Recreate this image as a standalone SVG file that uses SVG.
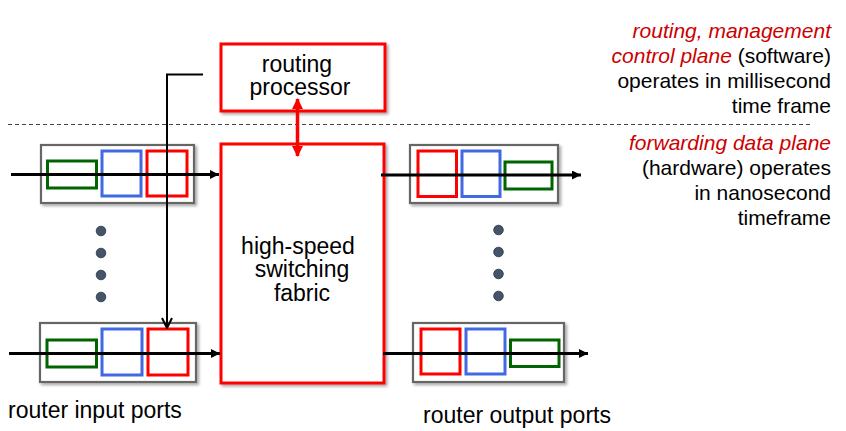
<svg xmlns="http://www.w3.org/2000/svg" width="846" height="431" viewBox="0 0 846 431">
<defs>
<filter id="sh" x="-10%" y="-10%" width="130%" height="130%">
<feDropShadow dx="2" dy="2" stdDeviation="1.5" flood-color="#000" flood-opacity="0.35"/>
</filter>
<marker id="tri" viewBox="0 0 10 10" refX="10" refY="5" markerWidth="9" markerHeight="9" markerUnits="userSpaceOnUse" orient="auto">
<path d="M0,0 L10,5 L0,10 z" fill="#000"/>
</marker>
<marker id="vee" viewBox="0 0 12 12" refX="11" refY="6" markerWidth="12" markerHeight="12" markerUnits="userSpaceOnUse" orient="auto">
<path d="M1,1 L11,6 L1,11" fill="none" stroke="#000" stroke-width="2"/>
</marker>
<marker id="red" viewBox="0 0 12 12" refX="11" refY="6" markerWidth="13" markerHeight="11" markerUnits="userSpaceOnUse" orient="auto-start-reverse">
<path d="M0,0 L12,6 L0,12 z" fill="#ff0000"/>
</marker>
</defs>
<style>
.port{fill:#fff;stroke:#666;stroke-width:2.2;filter:url(#sh)}
.rbox{fill:#fff;stroke:#ff0000;stroke-width:3;filter:url(#sh)}
.g{fill:none;stroke:#006400;stroke-width:3}
.b{fill:none;stroke:#4169e1;stroke-width:3}
.r{fill:none;stroke:#ff0000;stroke-width:3}
.dot{fill:#44546a;stroke:#2a3340;stroke-width:0.8}
.flow{stroke:#000;stroke-width:3;fill:none;marker-end:url(#tri)}
text{font-family:"Liberation Sans",Arial,sans-serif;fill:#000}
.lbl{font-size:23px;text-anchor:middle}
.side{font-size:21px;text-anchor:end}
.it{fill:#cc0000;font-style:italic}
</style>
<rect width="846" height="431" fill="#fff"/>
<line x1="8" y1="124.5" x2="810" y2="124.5" stroke="#444" stroke-width="1" stroke-dasharray="4,3"/>
<g id="routing-processor">
<rect class="rbox" x="221" y="44" width="164" height="67"/>
<text class="lbl" x="297" y="72">routing</text>
<text class="lbl" x="300" y="95">processor</text>
</g>
<g id="switching-fabric">
<rect class="rbox" x="221" y="144" width="163" height="239"/>
<text class="lbl" x="298" y="254">high-speed</text>
<text class="lbl" x="302" y="277">switching</text>
<text class="lbl" x="302" y="301">fabric</text>
</g>
<g id="input-port-1">
<rect class="port" x="41" y="145" width="153" height="58"/>
<rect class="g" x="47.5" y="161" width="49" height="27"/>
<rect class="b" x="102" y="151" width="39" height="45"/>
<rect class="r" x="147" y="151" width="40" height="45"/>
</g>
<g id="input-port-n">
<rect class="port" x="40" y="323" width="156" height="59"/>
<rect class="g" x="47" y="340" width="49.5" height="27"/>
<rect class="b" x="102" y="329" width="40" height="46"/>
<rect class="r" x="148" y="329" width="40" height="46"/>
</g>
<g id="output-port-1">
<rect class="port" x="410" y="145" width="148" height="58"/>
<rect class="r" x="418" y="151" width="38.5" height="45.5"/>
<rect class="b" x="462" y="151" width="38" height="45.5"/>
<rect class="g" x="505" y="162" width="47" height="27"/>
</g>
<g id="output-port-n">
<rect class="port" x="413" y="323" width="151" height="59"/>
<rect class="r" x="421" y="329" width="39" height="45"/>
<rect class="b" x="466" y="329" width="39" height="45"/>
<rect class="g" x="510.5" y="340" width="48.5" height="26.5"/>
</g>
<g id="input-dots">
<circle class="dot" cx="101" cy="231" r="4.8"/>
<circle class="dot" cx="101" cy="253" r="4.8"/>
<circle class="dot" cx="101" cy="275" r="4.8"/>
<circle class="dot" cx="101" cy="297" r="4.8"/>
</g>
<g id="output-dots">
<circle class="dot" cx="498.5" cy="230" r="4.8"/>
<circle class="dot" cx="498.5" cy="252" r="4.8"/>
<circle class="dot" cx="498.5" cy="274" r="4.8"/>
<circle class="dot" cx="498.5" cy="296" r="4.8"/>
</g>
<g id="connectors">
<line class="flow" x1="11" y1="174.5" x2="219" y2="174.5"/>
<line class="flow" x1="9" y1="353.5" x2="220" y2="353.5"/>
<line class="flow" x1="381" y1="175" x2="581" y2="175"/>
<line class="flow" x1="383" y1="353.5" x2="588" y2="353.5"/>
<path d="M203,74.5 H167 V328" fill="none" stroke="#000" stroke-width="2" marker-end="url(#vee)"/>
<line x1="297.5" y1="99" x2="297.5" y2="156" stroke="#ff0000" stroke-width="3.5" marker-start="url(#red)" marker-end="url(#red)"/>
</g>
<g id="labels">
<text x="8" y="418" style="font-size:23px">router input ports</text>
<text x="423" y="423" style="font-size:23px">router output ports</text>
<text class="side it" x="831" y="38">routing, management</text>
<text class="side" x="831" y="63"><tspan class="it">control plane</tspan> (software)</text>
<text class="side" x="831" y="88">operates in millisecond</text>
<text class="side" x="831" y="113">time frame</text>
<text class="side it" x="831" y="150">forwarding data plane</text>
<text class="side" x="831" y="175">(hardware) operates</text>
<text class="side" x="831" y="200">in nanosecond</text>
<text class="side" x="831" y="225">timeframe</text>
</g>
</svg>
